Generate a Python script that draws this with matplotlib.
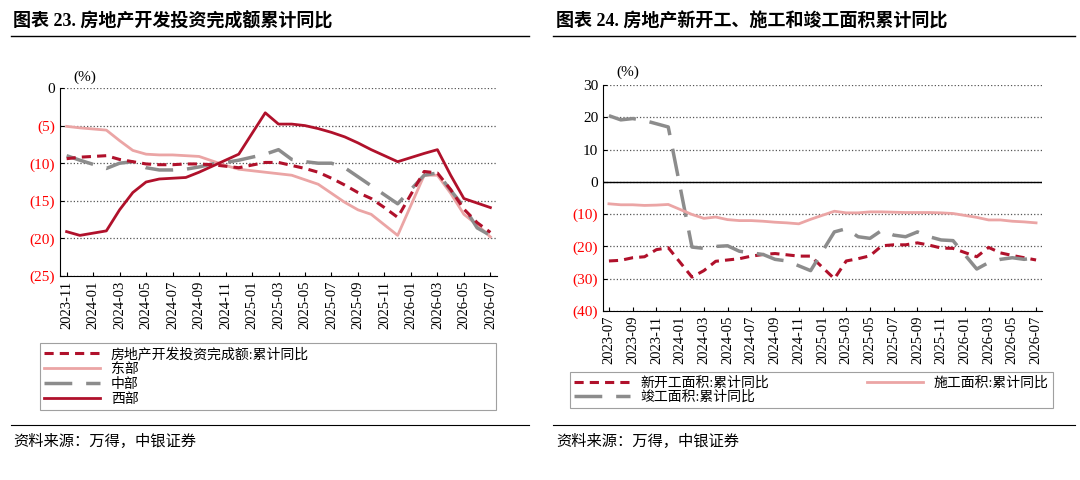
import numpy as np
import pandas as pd
from matplotlib import pyplot as plt
from matplotlib.lines import Line2D

plt.rcParams['font.family'] = ['Liberation Serif', 'Noto Sans CJK SC']

DARK_RED = '#B0112B'
PINK = '#EBA5A5'
GRAY = '#8C8C8C'

# left chart: 2023-11 .. 2026-07, no January points
left_months = pd.period_range('2023-11', '2026-07', freq='M').strftime('%Y-%m').tolist()
total_inv = [-9.4, -9.2, None, -9.0, -9.5, -9.8, -10.1, -10.2, -10.2, -10.1, -10.1, -10.2, -10.4, -10.6, None,
             -9.9, -9.9, -10.3, -10.7, -11.2, -12.0, -12.9, -13.9, -14.7, -15.9, -17.2, None, -11.1, -11.3,
             -13.5, -16.1, -17.9, -19.2]
east = [-5.1, -5.3, None, -5.6, -7.0, -8.3, -8.8, -8.9, -8.9, -9.0, -9.1, -9.7, -10.3, -10.8, None,
        -11.2, -11.4, -11.6, -12.2, -12.8, -14.0, -15.2, -16.2, -16.8, -18.2, -19.6, None, -11.6, -11.6,
        -14.0, -16.8, -18.2, -19.8]
central = [-9.0, -9.6, None, -10.7, -10.0, -9.8, -10.6, -10.9, -10.9, -10.8, -10.5, -10.1, -9.9, -9.6, None,
           -8.8, -8.2, -9.5, -9.8, -10.0, -10.0, -10.6, -11.8, -13.0, -14.2, -15.4, None, -11.6, -11.3,
           -13.6, -15.8, -18.6, -19.6]
west = [-19.1, -19.6, None, -19.0, -16.2, -13.9, -12.5, -12.1, -12.0, -11.9, -11.2, -10.4, -9.6, -8.8, None,
        -3.3, -4.8, -4.8, -5.0, -5.4, -5.9, -6.5, -7.3, -8.2, -9.0, -9.8, None, -8.7, -8.2,
        -11.6, -14.7, -15.3, -15.9]

# right chart: 2023-07 .. 2026-07
right_months = pd.period_range('2023-07', '2026-07', freq='M').strftime('%Y-%m').tolist()
new_start = [-24.5, -24.3, -23.5, -23.2, -21.0, -20.4, None, -29.5, -27.5, -24.6, -24.2, -23.8, -23.0, -22.5,
             -22.2, -22.6, -23.0, -23.0, None, -30.0, -24.5, -23.8, -22.9, -19.8, -19.5, -19.5, -18.9, -19.6,
             -20.5, -20.6, None, -23.2, -20.3, -22.0, -22.8, -23.5, -24.2]
under_constr = [-6.8, -7.1, -7.1, -7.3, -7.2, -7.0, None, -10.1, -11.3, -10.9, -11.7, -12.0, -12.0, -12.2,
                -12.5, -12.7, -13.0, -11.6, None, -9.1, -9.6, -9.6, -9.3, -9.3, -9.4, -9.5, -9.5, -9.5,
                -9.6, -9.8, None, -11.0, -11.8, -11.8, -12.2, -12.4, -12.7]
completed = [20.5, 19.2, 19.6, 19.0, 18.0, 17.0, None, -20.2, -20.6, -20.0, -19.8, -21.5, -22.0, -22.5,
             -24.0, -24.5, -26.0, -27.5, None, -15.5, -14.5, -17.0, -17.5, -15.0, -16.5, -17.0, -15.5, -17.0,
             -18.0, -18.2, None, -27.0, -25.0, -24.0, -23.5, -24.0, -23.5]


def draw_series(ax, values, **kw):
    s = pd.Series(values, dtype=float)
    s = s.dropna()
    ax.plot(s.index, s.values, **kw)


def fmt(v):
    if v < 0:
        return f'({-v:.0f})'
    return f'{v:.0f}'


def style_axes(ax, months, yticks):
    ax.set_xlim(-0.5, len(months) - 0.5)
    ax.set_ylim(yticks[0], yticks[-1])
    ax.set_yticks(yticks)
    ax.set_yticklabels([fmt(v) for v in yticks], fontsize=11)
    for lbl, v in zip(ax.get_yticklabels(), yticks):
        lbl.set_color('red' if v < 0 else 'black')
    ax.set_xticks(range(0, len(months), 2))
    ax.set_xticklabels(months[::2], rotation=90, fontsize=10.5)
    ax.grid(axis='y', linestyle=':', color='#555555', linewidth=0.9)
    ax.spines['top'].set_visible(False)
    ax.spines['right'].set_visible(False)
    ax.tick_params(direction='in', length=3)
    ax.text(0.03, 1.04, '(%)', transform=ax.transAxes, fontsize=11)


fig = plt.figure(figsize=(10.8, 4.8), dpi=100)

fig.text(0.012, 0.945, '图表 23. 房地产开发投资完成额累计同比', fontsize=13, fontweight='bold')
fig.text(0.515, 0.945, '图表 24. 房地产新开工、施工和竣工面积累计同比', fontsize=13, fontweight='bold')
fig.add_artist(Line2D([0.01, 0.49], [0.925, 0.925], color='black', lw=1))
fig.add_artist(Line2D([0.512, 0.995], [0.925, 0.925], color='black', lw=1))
fig.add_artist(Line2D([0.01, 0.49], [0.115, 0.115], color='black', lw=0.8))
fig.add_artist(Line2D([0.512, 0.995], [0.115, 0.115], color='black', lw=0.8))
fig.text(0.012, 0.07, '资料来源：万得，中银证券', fontsize=11, style='italic')
fig.text(0.515, 0.07, '资料来源：万得，中银证券', fontsize=11, style='italic')

ax1 = fig.add_axes([60 / 1080, 1 - 276 / 480, 437 / 1080, 188 / 480])
draw_series(ax1, east, color=PINK, lw=2, label='东部')
draw_series(ax1, central, color=GRAY, lw=2.5, dashes=(8, 4), label='中部')
draw_series(ax1, west, color=DARK_RED, lw=2, label='西部')
draw_series(ax1, total_inv, color=DARK_RED, lw=2.2, dashes=(3, 2), label='房地产开发投资完成额:累计同比')
style_axes(ax1, left_months, [-25, -20, -15, -10, -5, 0])
h, l = ax1.get_legend_handles_labels()
order = [3, 0, 1, 2]
leg1 = fig.legend([h[i] for i in order], [l[i] for i in order], loc='upper left',
                  bbox_to_anchor=(33 / 1080, 1 - 410 / 480, 470 / 1080, 74 / 480), mode='expand',
                  fancybox=False, edgecolor='#888888', fontsize=10, handlelength=4,
                  borderpad=0.3, labelspacing=0.15)
leg1.get_frame().set_linewidth(0.8)

ax2 = fig.add_axes([603 / 1080, 1 - 311 / 480, 439 / 1080, 226 / 480])
draw_series(ax2, new_start, color=DARK_RED, lw=2.2, dashes=(3, 2), label='新开工面积:累计同比')
draw_series(ax2, completed, color=GRAY, lw=2.5, dashes=(8, 4), label='竣工面积:累计同比')
draw_series(ax2, under_constr, color=PINK, lw=2, label='施工面积:累计同比')
style_axes(ax2, right_months, [-40, -30, -20, -10, 0, 10, 20, 30])
ax2.axhline(0, color='black', lw=1)
leg2 = fig.legend(*ax2.get_legend_handles_labels(), loc='upper left', ncol=2,
                  bbox_to_anchor=(563 / 1080, 1 - 405 / 480, 497 / 1080, 40 / 480), mode='expand',
                  fancybox=False, edgecolor='#888888', fontsize=10, handlelength=4,
                  borderpad=0.3, labelspacing=0.1)
leg2.get_frame().set_linewidth(0.8)

fig.savefig('out.png', dpi=100)
